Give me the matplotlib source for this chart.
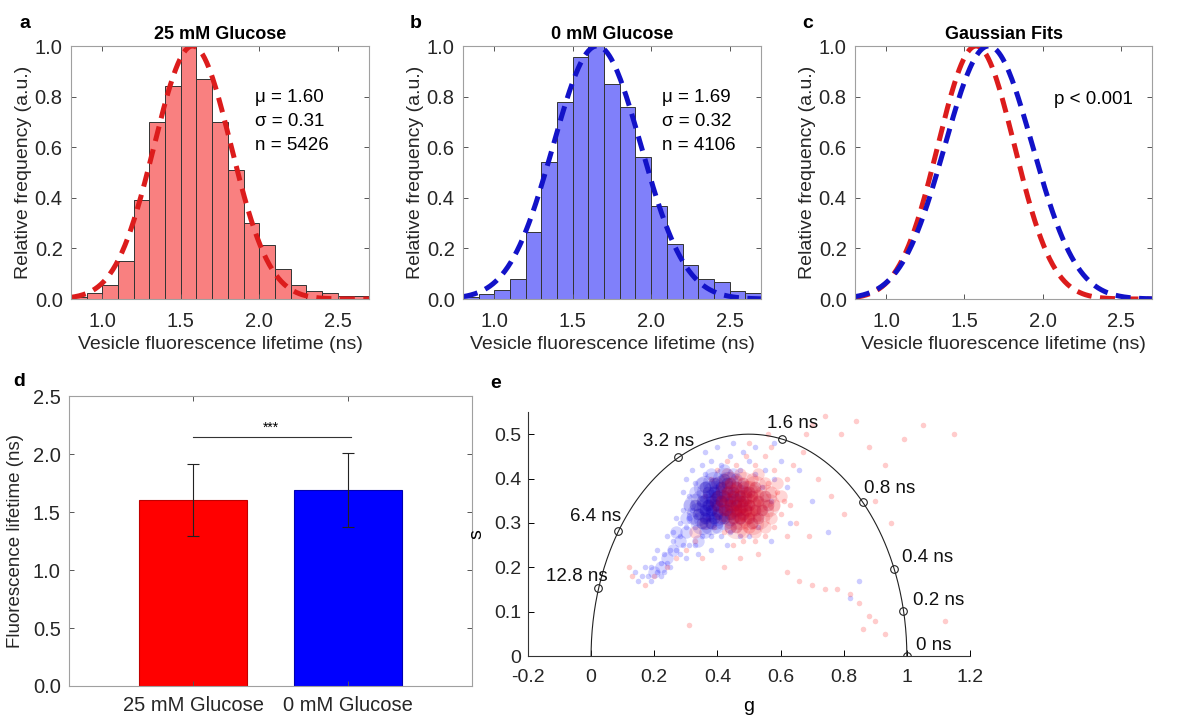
import numpy as np
import matplotlib
matplotlib.use('Agg')
from matplotlib import pyplot as plt
from matplotlib.ticker import FormatStrFormatter

plt.rcParams['font.family'] = ['Liberation Sans', 'DejaVu Sans']

# histogram data (bins of 0.1 ns from 0.8 to 2.7)
bin_edges = [0.8, 0.9, 1.0, 1.1, 1.2, 1.3, 1.4, 1.5, 1.6, 1.7, 1.8, 1.9, 2.0,
             2.1, 2.2, 2.3, 2.4, 2.5, 2.6, 2.7]
hist_25mM = [0.01, 0.025, 0.055, 0.15, 0.39, 0.70, 0.84, 1.0, 0.87, 0.70, 0.51,
             0.30, 0.215, 0.12, 0.055, 0.03, 0.024, 0.013, 0.013]
hist_0mM = [0.01, 0.02, 0.035, 0.08, 0.265, 0.54, 0.78, 0.955, 1.0, 0.85, 0.757,
            0.56, 0.367, 0.217, 0.134, 0.078, 0.066, 0.03, 0.024]

# gaussian fit parameters (as drawn: centre, width)
fit_25mM = (1.575, 0.245)
fit_0mM = (1.655, 0.28)

stats_25mM = 'μ = 1.60\nσ = 0.31\nn = 5426'
stats_0mM = 'μ = 1.69\nσ = 0.32\nn = 4106'

# bar chart
groups = ['25 mM Glucose', '0 mM Glucose']
means = [1.60, 1.69]
sds = [0.31, 0.32]

# phasor reference points on the universal circle
tau_labels = ['0 ns', '0.2 ns', '0.4 ns', '0.8 ns', '1.6 ns', '3.2 ns', '6.4 ns', '12.8 ns']
ref_g = [1.0, 0.989, 0.96, 0.86, 0.605, 0.276, 0.086, 0.021]
ref_s = [0.0, 0.101, 0.195, 0.346, 0.489, 0.449, 0.282, 0.154]
lab_g = [1.029, 1.018, 0.984, 0.864, 0.556, 0.163, -0.067, -0.143]
lab_s = [0.023, 0.126, 0.221, 0.378, 0.524, 0.483, 0.314, 0.179]

# phasor cloud
blue_core = [(0.36,0.33),(0.38,0.35),(0.40,0.34),(0.42,0.36),(0.39,0.31),(0.37,0.37),(0.41,0.38),
             (0.43,0.33),(0.35,0.35),(0.40,0.32),(0.44,0.35),(0.38,0.33),(0.36,0.31),(0.42,0.31),
             (0.45,0.37),(0.34,0.32),(0.39,0.39),(0.41,0.35),(0.37,0.34),(0.43,0.39),(0.46,0.34),
             (0.33,0.34),(0.40,0.36),(0.38,0.30),(0.44,0.32),(0.36,0.38),(0.47,0.36),(0.35,0.30),
             (0.42,0.40),(0.39,0.37)]
red_core = [(0.46,0.33),(0.48,0.35),(0.50,0.34),(0.45,0.36),(0.52,0.33),(0.47,0.31),(0.49,0.37),
            (0.44,0.34),(0.51,0.36),(0.53,0.35),(0.46,0.38),(0.48,0.32),(0.50,0.31),(0.43,0.37),
            (0.54,0.33),(0.47,0.35),(0.45,0.31),(0.52,0.38),(0.49,0.33),(0.55,0.36),(0.42,0.33),
            (0.51,0.30),(0.44,0.39),(0.48,0.39),(0.56,0.34),(0.46,0.29),(0.53,0.31),(0.50,0.37),
            (0.41,0.35),(0.47,0.33)]
blue_mid = [(0.31,0.34),(0.33,0.37),(0.35,0.39),(0.38,0.41),(0.42,0.42),(0.46,0.40),(0.48,0.38),
            (0.49,0.34),(0.47,0.31),(0.44,0.29),(0.40,0.29),(0.36,0.28),(0.32,0.31),(0.30,0.28),
            (0.28,0.26),(0.26,0.24),(0.24,0.22),(0.22,0.20),(0.34,0.26),(0.45,0.41),(0.20,0.19),
            (0.27,0.28),(0.30,0.31)]
red_mid = [(0.40,0.39),(0.43,0.41),(0.47,0.41),(0.51,0.40),(0.55,0.39),(0.57,0.37),(0.58,0.34),
           (0.57,0.31),(0.55,0.29),(0.52,0.28),(0.48,0.28),(0.44,0.29),(0.41,0.31),(0.39,0.34),
           (0.60,0.36),(0.53,0.41),(0.50,0.29),(0.59,0.39),(0.36,0.30),(0.33,0.28)]
blue_halo = [(0.30,0.40),(0.32,0.42),(0.35,0.43),(0.38,0.44),(0.41,0.43),(0.44,0.45),(0.47,0.42),
             (0.50,0.44),(0.52,0.41),(0.36,0.41),(0.33,0.39),(0.29,0.37),(0.31,0.36),(0.48,0.46),
             (0.55,0.42),(0.58,0.40),(0.54,0.38),(0.57,0.35),(0.53,0.29),(0.50,0.27),(0.47,0.27),
             (0.44,0.28),(0.41,0.27),(0.38,0.27),(0.35,0.27),(0.33,0.29),(0.31,0.31),(0.29,0.33),
             (0.27,0.31),(0.30,0.29),(0.28,0.27),(0.26,0.26),(0.25,0.24),(0.27,0.24),(0.23,0.23),
             (0.24,0.21),(0.22,0.21),(0.21,0.19),(0.20,0.22),(0.19,0.20),(0.18,0.18),(0.17,0.20),
             (0.16,0.18),(0.15,0.17),(0.19,0.17),(0.22,0.18),(0.25,0.20),(0.28,0.23),(0.31,0.25),
             (0.33,0.25),(0.26,0.28),(0.24,0.27),(0.21,0.24),(0.29,0.25),(0.34,0.23),(0.30,0.22),
             (0.23,0.19),(0.14,0.19),(0.60,0.44),(0.62,0.38),(0.58,0.48),(0.45,0.48),(0.40,0.47),
             (0.52,0.47),(0.36,0.46),(0.66,0.42),(0.63,0.30),(0.57,0.26),(0.70,0.35),(0.75,0.28),
             (0.82,0.13),(0.85,0.17),(0.38,0.24),(0.43,0.25),(0.32,0.33),(0.28,0.30)]
red_halo = [(0.40,0.42),(0.43,0.44),(0.46,0.43),(0.49,0.45),(0.52,0.43),(0.55,0.45),(0.58,0.42),
            (0.56,0.39),(0.59,0.37),(0.61,0.35),(0.60,0.32),(0.58,0.29),(0.55,0.27),(0.52,0.26),
            (0.48,0.26),(0.45,0.25),(0.42,0.28),(0.39,0.29),(0.37,0.31),(0.36,0.36),(0.38,0.40),
            (0.62,0.40),(0.64,0.43),(0.57,0.47),(0.50,0.48),(0.63,0.34),(0.65,0.30),(0.62,0.27),
            (0.53,0.23),(0.47,0.22),(0.33,0.26),(0.30,0.24),(0.27,0.22),(0.24,0.20),(0.20,0.18),
            (0.17,0.16),(0.13,0.18),(0.12,0.20),(0.35,0.22),(0.42,0.20),(0.67,0.46),(0.70,0.52),
            (0.74,0.54),(0.79,0.50),(0.84,0.53),(0.88,0.47),(0.93,0.43),(0.99,0.49),(1.05,0.52),
            (1.15,0.50),(0.72,0.40),(0.76,0.36),(0.80,0.32),(0.69,0.27),(0.95,0.30),(0.90,0.35),
            (0.62,0.19),(0.66,0.17),(0.70,0.16),(0.74,0.15),(0.78,0.15),(0.82,0.14),(0.85,0.12),
            (0.88,0.09),(0.90,0.08),(0.93,0.05),(0.86,0.06),(1.12,0.08),(0.31,0.07),(0.68,0.50),
            (0.56,0.50)]

RED_BAR = '#f98080'
BLUE_BAR = '#8080fa'
RED_LINE = '#dc1c1c'
BLUE_LINE = '#1212c8'
TXT = '#262626'

fig = plt.figure(figsize=(11.88, 7.19), dpi=100)


def style_box(ax):
    for sp in ax.spines.values():
        sp.set_color('#a0a0a0')
        sp.set_linewidth(0.8)
    ax.tick_params(direction='in', top=True, right=True, length=3.5, width=0.7,
                   color='#555555', labelsize=14.5, labelcolor=TXT)
    ax.tick_params(axis='x', pad=9)
    ax.tick_params(axis='y', pad=6)


def hist_panel(rect, hist, fits, colors, title, bar_color=None):
    ax = fig.add_axes(rect)
    edges = np.array(bin_edges)
    if hist is not None:
        ax.bar(edges[:-1], hist, width=np.diff(edges), align='edge', color=bar_color,
               edgecolor='#333333', linewidth=0.7)
    xx = np.linspace(0.8, 2.7, 300)
    for (mu, sd), c in zip(fits, colors):
        ax.plot(xx, np.exp(-(xx - mu) ** 2 / (2 * sd ** 2)), color=c, lw=3.6,
                linestyle=(0, (3, 1.7)))
    ax.set_xlim(0.8, 2.7)
    ax.set_ylim(0, 1)
    ax.set_xticks([1.0, 1.5, 2.0, 2.5])
    ax.set_yticks([0, 0.2, 0.4, 0.6, 0.8, 1.0])
    ax.xaxis.set_major_formatter(FormatStrFormatter('%.1f'))
    ax.yaxis.set_major_formatter(FormatStrFormatter('%.1f'))
    style_box(ax)
    ax.set_xlabel('Vesicle fluorescence lifetime (ns)', fontsize=14, color=TXT, labelpad=4)
    ax.set_ylabel('Relative frequency (a.u.)', fontsize=14, color=TXT, labelpad=2)
    ax.set_title(title, fontsize=13, fontweight='bold', pad=5)
    return ax


ax_a = hist_panel([0.0598, 0.5841, 0.2508, 0.3519], hist_25mM, [fit_25mM], [RED_LINE],
                  '25 mM Glucose', RED_BAR)
ax_a.text(1.97, 0.83, stats_25mM, fontsize=13.5, va='top', ha='left', linespacing=1.55)
ax_b = hist_panel([0.3897, 0.5841, 0.2508, 0.3519], hist_0mM, [fit_0mM], [BLUE_LINE],
                  '0 mM Glucose', BLUE_BAR)
ax_b.text(2.07, 0.83, stats_0mM, fontsize=13.5, va='top', ha='left', linespacing=1.55)
ax_c = hist_panel([0.7197, 0.5841, 0.2500, 0.3519], None, [fit_25mM, fit_0mM],
                  [RED_LINE, BLUE_LINE], 'Gaussian Fits')
ax_c.text(2.07, 0.79, 'p < 0.001', fontsize=13.5, va='center', ha='left')

# panel d: bar chart
ax_d = fig.add_axes([0.0581, 0.0459, 0.3392, 0.4033])
xpos = [1, 2]
ax_d.bar(xpos, means, width=0.7, color=['#ff0000', '#0000ff'], edgecolor=['#c00000', '#0000b0'],
         linewidth=0.8)
ax_d.errorbar(xpos, means, yerr=sds, fmt='none', ecolor='#222222', elinewidth=0.8,
              capsize=4, capthick=0.8)
ax_d.plot([1, 2.02], [2.145, 2.145], color='#333333', lw=0.8)
ax_d.text(1.5, 2.17, '***', ha='center', va='bottom', fontsize=10)
ax_d.set_xlim(0.2, 2.8)
ax_d.set_ylim(0, 2.5)
ax_d.set_xticks(xpos)
ax_d.set_xticklabels(groups)
ax_d.set_yticks([0, 0.5, 1.0, 1.5, 2.0, 2.5])
ax_d.yaxis.set_major_formatter(FormatStrFormatter('%.1f'))
style_box(ax_d)
ax_d.tick_params(axis='x', labelsize=14.5, pad=7)
ax_d.set_ylabel('Fluorescence lifetime (ns)', fontsize=13.5, color=TXT, labelpad=6)

# panel e: phasor plot
ax_e = fig.add_axes([0.4444, 0.0876, 0.3721, 0.3394])


def cloud(pts, size, alpha, color):
    ax_e.scatter([p[0] for p in pts], [p[1] for p in pts], s=size, color=color,
                 alpha=alpha, linewidths=0)


cloud(blue_halo, 16, 0.2, 'blue')
cloud(red_halo, 16, 0.2, 'red')
cloud(blue_mid, 80, 0.16, 'blue')
cloud(red_mid, 80, 0.16, 'red')
cloud(blue_core, 280, 0.15, '#1000d0')
cloud(blue_core, 70, 0.30, '#1a00b0')
cloud(red_core, 280, 0.13, '#e00010')
cloud(red_core, 70, 0.28, '#c00030')

th = np.linspace(0, np.pi, 300)
ax_e.plot(0.5 + 0.5 * np.cos(th), 0.5 * np.sin(th), color='#222222', lw=0.8)
ax_e.plot(ref_g, ref_s, 'o', mfc='none', mec='#222222', ms=5.5, mew=0.8)
for t, gx, sy in zip(tau_labels, lab_g, lab_s):
    ax_e.text(gx, sy, t, fontsize=13.5, ha='left', va='center', color='#111111')
ax_e.set_xlim(-0.2, 1.2)
ax_e.set_ylim(0, 0.55)
ax_e.set_xticks([-0.2, 0, 0.2, 0.4, 0.6, 0.8, 1.0, 1.2])
ax_e.set_xticklabels(['-0.2', '0', '0.2', '0.4', '0.6', '0.8', '1', '1.2'])
ax_e.set_yticks([0, 0.1, 0.2, 0.3, 0.4, 0.5])
ax_e.set_yticklabels(['0', '0.1', '0.2', '0.3', '0.4', '0.5'])
for side in ['top', 'right']:
    ax_e.spines[side].set_visible(False)
for side in ['left', 'bottom']:
    ax_e.spines[side].set_color('#333333')
    ax_e.spines[side].set_linewidth(0.8)
ax_e.tick_params(direction='in', length=4, width=0.7, labelsize=14, labelcolor=TXT)
ax_e.tick_params(axis='x', pad=9)
ax_e.tick_params(axis='y', pad=5)
ax_e.set_xlabel('g', fontsize=14, labelpad=9)
ax_e.set_ylabel('s', fontsize=14, labelpad=6)

# panel letters
for letter, x, y in [('a', 0.016, 0.967), ('b', 0.345, 0.967), ('c', 0.675, 0.967),
                     ('d', 0.011, 0.470), ('e', 0.413, 0.466)]:
    fig.text(x, y, letter, fontsize=14, fontweight='bold', ha='left', va='center')

fig.savefig('out.png', dpi=100)
